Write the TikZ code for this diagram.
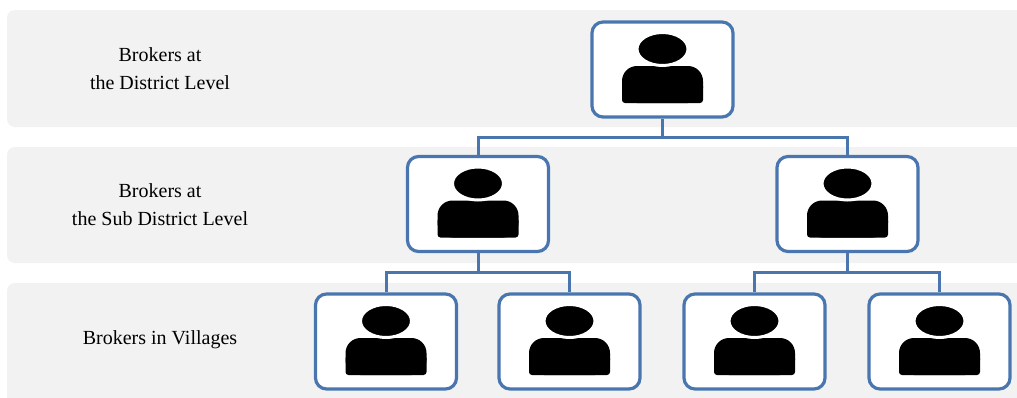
\documentclass[tikz,border=0pt]{standalone}
\usepackage{fontspec}
\setmainfont{Liberation Serif}
\definecolor{bandgray}{HTML}{F2F2F2}
\definecolor{boxblue}{HTML}{4A76B0}
\tikzset{
  x=1pt, y=-1pt,
  band/.style={fill=bandgray, draw=none, rounded corners=8pt},
  personbox/.style={draw=boxblue, line width=3.2pt, fill=white, rounded corners=11pt,
    minimum width=141pt, minimum height=95pt, inner sep=0pt},
  levellabel/.style={align=center, font=\fontsize{20}{28}\selectfont, text=black},
  conn/.style={draw=boxblue, line width=3pt},
  person/.pic={
    \fill[black, rounded corners=15pt] (-40.5,-3.5) rectangle (40.5,33.5);
    \fill[black, rounded corners=3pt] (-40.5,14) rectangle (40.5,33.5);
    \filldraw[fill=black, draw=white, line width=3pt] (0,-20.5) ellipse [x radius=25.5, y radius=16.5];
  }
}
\begin{document}
\begin{tikzpicture}
\useasboundingbox (0,0) rectangle (1017,397);
\clip (0,0) rectangle (1017,397);
\fill[white] (0,0) rectangle (1017,397);
% bands
\path[band] (7,10) rectangle (1040,127);
\path[band] (7,147) rectangle (1040,263);
\path[band] (7,283) rectangle (1040,420);
% labels
\node[levellabel] (l1) at (160,69) {Brokers at\\the District Level};
\node[levellabel] (l2) at (160,205) {Brokers at\\the Sub District Level};
\node[levellabel] (l3) at (160,340) {Brokers in Villages};
% boxes
\node[personbox] (d) at (662.5,69.5) {};
\node[personbox] (s1) at (478,204) {};
\node[personbox] (s2) at (847.5,204) {};
\node[personbox] (v1) at (386,341.5) {};
\node[personbox] (v2) at (569.5,341.5) {};
\node[personbox] (v3) at (754.5,341.5) {};
\node[personbox] (v4) at (939.5,341.5) {};
% icons
\foreach \n in {d,s1,s2,v1,v2,v3,v4} { \pic at (\n) {person}; }
% connectors
\coordinate (j1) at (662.5,137);
\coordinate (j2) at (478,272.5);
\coordinate (j3) at (847.5,272.5);
\draw[conn] (d.south) -- (j1);
\draw[conn] (s1.north) |- (j1) -| (s2.north);
\draw[conn] (s1.south) -- (j2);
\draw[conn] (v1.north) |- (j2) -| (v2.north);
\draw[conn] (s2.south) -- (j3);
\draw[conn] (v3.north) |- (j3) -| (v4.north);
\end{tikzpicture}
\end{document}
